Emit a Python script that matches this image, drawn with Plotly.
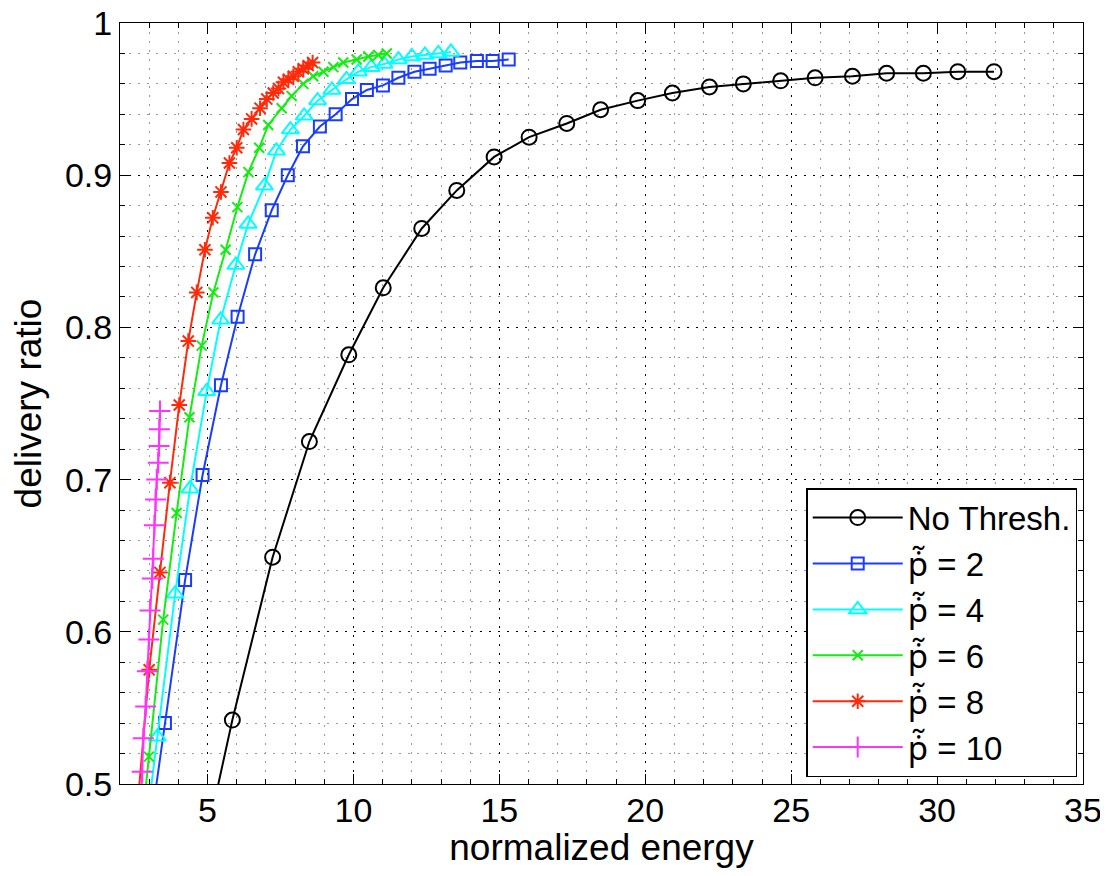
import plotly.graph_objects as go

# values
no_thresh_x = [4.50, 5.85, 7.23, 8.49, 9.84, 11.02, 12.34, 13.54, 14.82, 16.02, 17.31, 18.47,
               19.74, 20.93, 22.20, 23.36, 24.64, 25.82, 27.10, 28.27, 29.53, 30.71, 31.95]
no_thresh_y = [0.424, 0.542, 0.649, 0.725, 0.782, 0.826, 0.865, 0.890, 0.912, 0.925, 0.934, 0.943,
               0.949, 0.954, 0.958, 0.960, 0.962, 0.964, 0.965, 0.967, 0.967, 0.968, 0.968]

p2_x = [3.03, 3.54, 4.23, 4.83, 5.46, 6.03, 6.63, 7.20, 7.75, 8.27, 8.85, 9.39, 9.95,
        10.46, 11.01, 11.54, 12.09, 12.61, 13.16, 13.66, 14.23, 14.77, 15.32]
p2_y = [0.470, 0.540, 0.634, 0.703, 0.762, 0.807, 0.848, 0.877, 0.900, 0.919, 0.932, 0.940, 0.950,
        0.956, 0.959, 0.964, 0.968, 0.970, 0.972, 0.974, 0.975, 0.975, 0.976]

p4_x = [2.95, 3.28, 3.89, 4.40, 4.97, 5.45, 5.97, 6.39, 6.95, 7.36, 7.84, 8.31, 8.77, 9.26,
        9.76, 10.17, 10.61, 11.05, 11.54, 12.00, 12.45, 12.91, 13.34]
p4_y = [0.480, 0.531, 0.625, 0.694, 0.758, 0.805, 0.841, 0.868, 0.893, 0.916, 0.930, 0.939, 0.949,
        0.956, 0.963, 0.968, 0.971, 0.973, 0.976, 0.978, 0.979, 0.980, 0.981]

p6_x = [2.84, 2.99, 3.48, 3.94, 4.38, 4.80, 5.20, 5.62, 6.02, 6.40, 6.77, 7.08, 7.54, 7.88,
        8.28, 8.62, 8.97, 9.31, 9.65, 10.11, 10.51, 10.85, 11.14]
p6_y = [0.490, 0.518, 0.608, 0.678, 0.741, 0.788, 0.823, 0.851, 0.879, 0.902, 0.918, 0.933, 0.944,
        0.952, 0.960, 0.965, 0.968, 0.971, 0.974, 0.976, 0.978, 0.979, 0.980]

p8_x = [2.62, 3.00, 3.37, 3.71, 4.03, 4.34, 4.63, 4.91, 5.18, 5.46, 5.75, 6.00, 6.23, 6.51,
        6.80, 7.03, 7.25, 7.43, 7.60, 7.77, 7.94, 8.11, 8.28, 8.45, 8.60]
p8_y = [0.490, 0.575, 0.639, 0.698, 0.749, 0.791, 0.823, 0.851, 0.872, 0.889, 0.908, 0.918, 0.930,
        0.937, 0.944, 0.950, 0.954, 0.957, 0.961, 0.963, 0.965, 0.968, 0.970, 0.972, 0.974]

p10_x = [2.72, 2.76, 2.80, 2.88, 2.94, 2.99, 3.03, 3.11, 3.14, 3.18, 3.22, 3.26, 3.31, 3.34,
         3.35, 3.37]
p10_y = [0.487, 0.508, 0.530, 0.551, 0.574, 0.595, 0.614, 0.635, 0.648, 0.670, 0.687, 0.700,
         0.711, 0.722, 0.733, 0.745]

# p with dot and tilde stacked above it (Noto Sans stacks combining marks)
PT = '<span style="font-family:Noto Sans">p\u0307\u0303</span>'
names = ["No Thresh.", PT + " = 2", PT + " = 4", PT + " = 6", PT + " = 8", PT + " = 10"]

series = [
    (no_thresh_x, no_thresh_y, "#000000", "circle-open", 15),
    (p2_x, p2_y, "#1a3cff", "square-open", 12),
    (p4_x, p4_y, "#00ffff", "triangle-up-open", 15),
    (p6_x, p6_y, "#11ee11", "x-thin-open", 10),
    (p8_x, p8_y, "#ff2a0a", "asterisk-open", 13),
    (p10_x, p10_y, "#ff33ff", "cross-thin-open", 15),
]

FONT = "Liberation Sans, Arial, sans-serif"

fig = go.Figure()
for (xs, ys, col, sym, sz), nm in zip(series, names):
    fig.add_trace(go.Scatter(
        x=xs, y=ys, name=nm, mode="lines+markers",
        line=dict(color=col, width=2),
        marker=dict(symbol=sym, size=sz, color=col, line=dict(color=col, width=2)),
    ))

axis_common = dict(
    showline=True, linecolor="black", linewidth=1, mirror="ticks",
    ticks="inside", ticklen=10, tickcolor="black",
    showgrid=True, gridcolor="#000000", gridwidth=1, griddash="2px,7px",
    zeroline=False, automargin=False, ticklabeloverflow="allow",
    tickfont=dict(family=FONT, size=34, color="black"),
)

fig.update_xaxes(
    range=[2, 35], dtick=5, tick0=0, ticklabelstandoff=-4,
    minor=dict(dtick=1, ticks="inside", ticklen=5, tickcolor="black",
               showgrid=True, gridcolor="#999999", gridwidth=1, griddash="2px,7px"),
    title=dict(text="normalized energy", font=dict(family=FONT, size=37, color="black"), standoff=6),
    **axis_common,
)
fig.update_yaxes(
    range=[0.5, 1], dtick=0.1, tick0=0, tickformat="~g",
    minor=dict(dtick=0.02, ticks="inside", ticklen=5, tickcolor="black",
               showgrid=True, gridcolor="#999999", gridwidth=1, griddash="2px,7px"),
    title=dict(text="delivery ratio", font=dict(family=FONT, size=37, color="black"), standoff=12),
    **axis_common,
)

# page body has an 8px margin, so the figure is sized to fit inside it
fig.update_layout(
    width=1092, height=860,
    margin=dict(l=112, r=17, t=15, b=84),
    paper_bgcolor="white", plot_bgcolor="white",
    showlegend=True,
    legend=dict(
        x=0.994, xanchor="right", y=0.009, yanchor="bottom",
        bgcolor="white", bordercolor="black", borderwidth=1.5,
        font=dict(family=FONT, size=33, color="black"),
        itemwidth=90, tracegroupgap=0,
    ),
)

fig.write_html("out.html")
